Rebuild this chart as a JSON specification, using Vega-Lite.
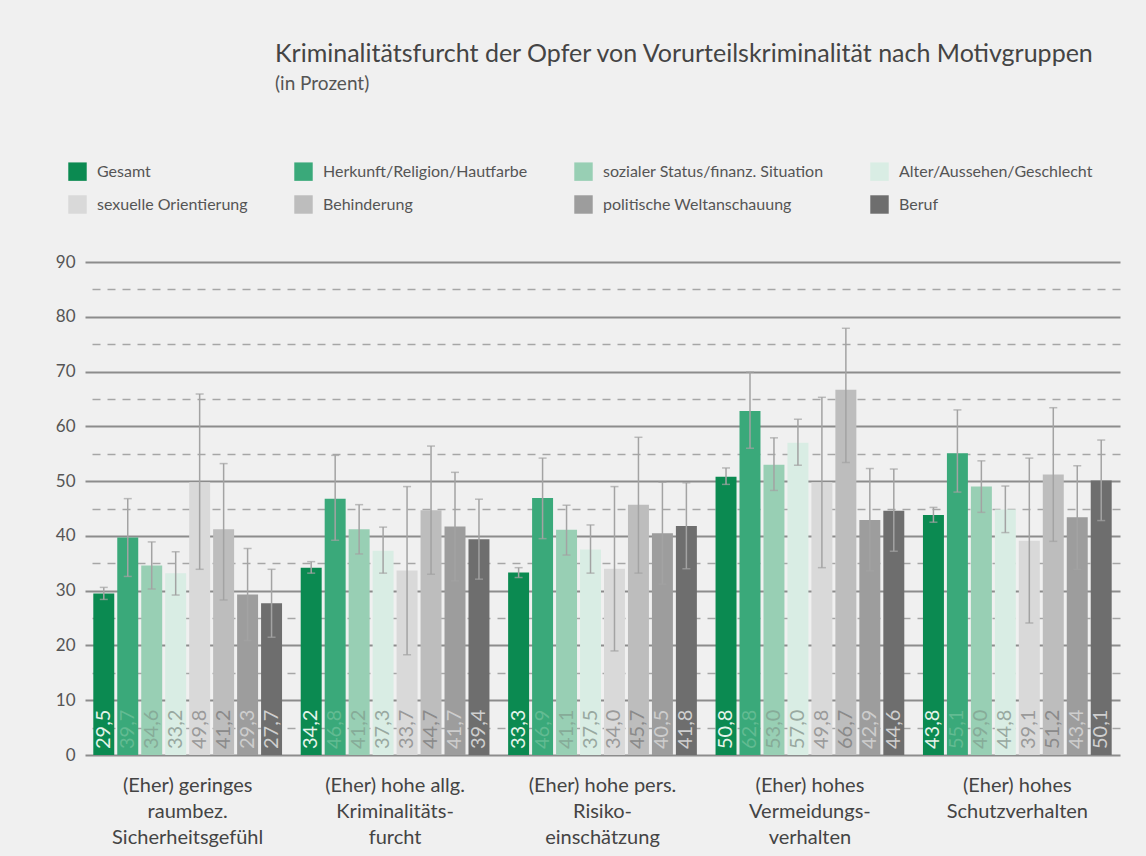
{
  "$schema": "https://vega.github.io/schema/vega-lite/v6.json",
  "autosize": {"type": "none"},
  "width": 1035,
  "height": 493,
  "padding": {"left": 85, "top": 262, "right": 26, "bottom": 101},
  "background": "#f0f0f0",
  "title": {
    "text": "Kriminalitätsfurcht der Opfer von Vorurteilskriminalität nach Motivgruppen",
    "subtitle": "(in Prozent)",
    "anchor": "start",
    "frame": "group",
    "dx": 190,
    "offset": 68,
    "font": "Lato",
    "fontSize": 25,
    "fontWeight": "normal",
    "color": "#444444",
    "subtitleFont": "Lato",
    "subtitleFontSize": 19,
    "subtitleColor": "#555555",
    "subtitlePadding": 8
  },
  "data": {
    "values": [
      {"g": "(Eher) geringes|raumbez.|Sicherheitsgefühl", "s": "Gesamt", "v": 29.5, "lo": 28.4, "hi": 30.6},
      {"g": "(Eher) geringes|raumbez.|Sicherheitsgefühl", "s": "Herkunft/Religion/Hautfarbe", "v": 39.7, "lo": 32.6, "hi": 46.8},
      {"g": "(Eher) geringes|raumbez.|Sicherheitsgefühl", "s": "sozialer Status/finanz. Situation", "v": 34.6, "lo": 30.3, "hi": 38.9},
      {"g": "(Eher) geringes|raumbez.|Sicherheitsgefühl", "s": "Alter/Aussehen/Geschlecht", "v": 33.2, "lo": 29.2, "hi": 37.1},
      {"g": "(Eher) geringes|raumbez.|Sicherheitsgefühl", "s": "sexuelle Orientierung", "v": 49.8, "lo": 33.9, "hi": 65.9},
      {"g": "(Eher) geringes|raumbez.|Sicherheitsgefühl", "s": "Behinderung", "v": 41.2, "lo": 28.3, "hi": 53.2},
      {"g": "(Eher) geringes|raumbez.|Sicherheitsgefühl", "s": "politische Weltanschauung", "v": 29.3, "lo": 20.9, "hi": 37.7},
      {"g": "(Eher) geringes|raumbez.|Sicherheitsgefühl", "s": "Beruf", "v": 27.7, "lo": 21.5, "hi": 33.9},
      {"g": "(Eher) hohe allg.|Kriminalitäts-|furcht", "s": "Gesamt", "v": 34.2, "lo": 33.2, "hi": 35.3},
      {"g": "(Eher) hohe allg.|Kriminalitäts-|furcht", "s": "Herkunft/Religion/Hautfarbe", "v": 46.8, "lo": 39.2, "hi": 54.7},
      {"g": "(Eher) hohe allg.|Kriminalitäts-|furcht", "s": "sozialer Status/finanz. Situation", "v": 41.2, "lo": 36.7, "hi": 45.7},
      {"g": "(Eher) hohe allg.|Kriminalitäts-|furcht", "s": "Alter/Aussehen/Geschlecht", "v": 37.3, "lo": 33.2, "hi": 41.6},
      {"g": "(Eher) hohe allg.|Kriminalitäts-|furcht", "s": "sexuelle Orientierung", "v": 33.7, "lo": 18.3, "hi": 49.0},
      {"g": "(Eher) hohe allg.|Kriminalitäts-|furcht", "s": "Behinderung", "v": 44.7, "lo": 33.0, "hi": 56.4},
      {"g": "(Eher) hohe allg.|Kriminalitäts-|furcht", "s": "politische Weltanschauung", "v": 41.7, "lo": 31.8, "hi": 51.6},
      {"g": "(Eher) hohe allg.|Kriminalitäts-|furcht", "s": "Beruf", "v": 39.4, "lo": 32.1, "hi": 46.7},
      {"g": "(Eher) hohe pers.|Risiko-|einschätzung", "s": "Gesamt", "v": 33.3, "lo": 32.4, "hi": 34.2},
      {"g": "(Eher) hohe pers.|Risiko-|einschätzung", "s": "Herkunft/Religion/Hautfarbe", "v": 46.9, "lo": 39.5, "hi": 54.2},
      {"g": "(Eher) hohe pers.|Risiko-|einschätzung", "s": "sozialer Status/finanz. Situation", "v": 41.1, "lo": 36.5, "hi": 45.6},
      {"g": "(Eher) hohe pers.|Risiko-|einschätzung", "s": "Alter/Aussehen/Geschlecht", "v": 37.5, "lo": 33.2, "hi": 42.0},
      {"g": "(Eher) hohe pers.|Risiko-|einschätzung", "s": "sexuelle Orientierung", "v": 34.0, "lo": 19.0, "hi": 49.0},
      {"g": "(Eher) hohe pers.|Risiko-|einschätzung", "s": "Behinderung", "v": 45.7, "lo": 33.2, "hi": 58.0},
      {"g": "(Eher) hohe pers.|Risiko-|einschätzung", "s": "politische Weltanschauung", "v": 40.5, "lo": 31.2, "hi": 49.8},
      {"g": "(Eher) hohe pers.|Risiko-|einschätzung", "s": "Beruf", "v": 41.8, "lo": 34.0, "hi": 49.7},
      {"g": "(Eher) hohes|Vermeidungs-|verhalten", "s": "Gesamt", "v": 50.8, "lo": 49.4, "hi": 52.4},
      {"g": "(Eher) hohes|Vermeidungs-|verhalten", "s": "Herkunft/Religion/Hautfarbe", "v": 62.8, "lo": 56.0, "hi": 69.9},
      {"g": "(Eher) hohes|Vermeidungs-|verhalten", "s": "sozialer Status/finanz. Situation", "v": 53.0, "lo": 48.3, "hi": 57.9},
      {"g": "(Eher) hohes|Vermeidungs-|verhalten", "s": "Alter/Aussehen/Geschlecht", "v": 57.0, "lo": 52.9, "hi": 61.3},
      {"g": "(Eher) hohes|Vermeidungs-|verhalten", "s": "sexuelle Orientierung", "v": 49.8, "lo": 34.2, "hi": 65.3},
      {"g": "(Eher) hohes|Vermeidungs-|verhalten", "s": "Behinderung", "v": 66.7, "lo": 53.4, "hi": 77.9},
      {"g": "(Eher) hohes|Vermeidungs-|verhalten", "s": "politische Weltanschauung", "v": 42.9, "lo": 33.6, "hi": 52.3},
      {"g": "(Eher) hohes|Vermeidungs-|verhalten", "s": "Beruf", "v": 44.6, "lo": 37.2, "hi": 52.2},
      {"g": "(Eher) hohes|Schutzverhalten", "s": "Gesamt", "v": 43.8, "lo": 42.5, "hi": 45.2},
      {"g": "(Eher) hohes|Schutzverhalten", "s": "Herkunft/Religion/Hautfarbe", "v": 55.1, "lo": 48.0, "hi": 63.0},
      {"g": "(Eher) hohes|Schutzverhalten", "s": "sozialer Status/finanz. Situation", "v": 49.0, "lo": 44.3, "hi": 53.7},
      {"g": "(Eher) hohes|Schutzverhalten", "s": "Alter/Aussehen/Geschlecht", "v": 44.8, "lo": 40.6, "hi": 49.1},
      {"g": "(Eher) hohes|Schutzverhalten", "s": "sexuelle Orientierung", "v": 39.1, "lo": 24.1, "hi": 54.2},
      {"g": "(Eher) hohes|Schutzverhalten", "s": "Behinderung", "v": 51.2, "lo": 39.0, "hi": 63.4},
      {"g": "(Eher) hohes|Schutzverhalten", "s": "politische Weltanschauung", "v": 43.4, "lo": 33.9, "hi": 52.8},
      {"g": "(Eher) hohes|Schutzverhalten", "s": "Beruf", "v": 50.1, "lo": 42.8, "hi": 57.5}
    ]
  },
  "encoding": {
    "x": {
      "field": "g", "type": "nominal", "sort": null,
      "scale": {"paddingInner": 0.09, "paddingOuter": 0.04},
      "axis": {
        "title": null, "labelAngle": 0, "domain": false, "ticks": false,
        "labelExpr": "split(datum.value, '|')",
        "labelFont": "Lato", "labelFontSize": 20, "labelColor": "#444444",
        "labelPadding": 20, "labelLineHeight": 26, "labelBaseline": "top", "labelLimit": 300
      }
    },
    "xOffset": {
      "field": "s", "type": "nominal", "sort": null,
      "scale": {"paddingInner": 0.125, "paddingOuter": 0}
    }
  },
  "layer": [
    {
      "mark": {"type": "bar"},
      "encoding": {
        "y": {
          "field": "v", "type": "quantitative",
          "scale": {"domain": [0, 90], "nice": false},
          "axis": {
            "title": null,
            "values": [0, 10, 20, 30, 40, 50, 60, 70, 80, 90],
            "domain": false, "ticks": false,
            "labelFont": "Lato", "labelFontSize": 17, "labelColor": "#555555", "labelPadding": 10,
            "grid": true, "gridColor": "#8c8c8c", "gridWidth": 2, "gridOpacity": 1
          }
        },
        "color": {
          "field": "s", "type": "nominal", "sort": null,
          "scale": {
            "domain": ["Gesamt", "Herkunft/Religion/Hautfarbe", "sozialer Status/finanz. Situation", "Alter/Aussehen/Geschlecht", "sexuelle Orientierung", "Behinderung", "politische Weltanschauung", "Beruf"],
            "range": ["#0b8a51", "#3aa97a", "#98cfb4", "#d9ede4", "#d9d9d9", "#bdbdbd", "#9d9d9d", "#6e6e6e"]
          },
          "legend": {
            "title": null, "orient": "none", "legendX": -17, "legendY": -100,
            "direction": "horizontal", "columns": 4, "columnPadding": 46, "rowPadding": 14,
            "symbolType": "square", "symbolSize": 340, "symbolStrokeWidth": 0, "symbolOpacity": 1,
            "labelFont": "Lato", "labelFontSize": 16, "labelColor": "#555555", "labelOffset": 10, "labelLimit": 400
          }
        }
      }
    },
    {
      "mark": {"type": "rule", "color": "#a3a3a3", "strokeWidth": 1.5},
      "encoding": {
        "y": {
          "field": "lo", "type": "quantitative",
          "axis": {
            "title": null, "orient": "right",
            "values": [5, 15, 25, 35, 45, 55, 65, 75, 85],
            "labels": false, "domain": false, "ticks": false,
            "grid": true, "gridColor": "#a6a6a6", "gridWidth": 1.5, "gridDash": [8, 7], "gridOpacity": 1
          }
        },
        "y2": {"field": "hi"}
      }
    },
    {
      "mark": {"type": "tick", "color": "#a3a3a3", "size": 8, "thickness": 1.5},
      "encoding": {"y": {"field": "lo", "type": "quantitative", "axis": null}}
    },
    {
      "mark": {"type": "tick", "color": "#a3a3a3", "size": 8, "thickness": 1.5},
      "encoding": {"y": {"field": "hi", "type": "quantitative", "axis": null}}
    },
    {
      "mark": {"type": "text", "angle": 270, "align": "left", "baseline": "middle", "dx": 6, "font": "Lato", "fontSize": 20},
      "encoding": {
        "y": {"datum": 0, "type": "quantitative", "axis": null},
        "text": {"field": "v", "type": "quantitative", "format": ".1f"},
        "color": {
          "field": "s", "type": "nominal", "sort": null, "legend": null,
          "scale": {
            "domain": ["Gesamt", "Herkunft/Religion/Hautfarbe", "sozialer Status/finanz. Situation", "Alter/Aussehen/Geschlecht", "sexuelle Orientierung", "Behinderung", "politische Weltanschauung", "Beruf"],
            "range": ["#e4f4ea", "#62bb92", "#86ab98", "#98a8a0", "#9a9a9a", "#8a8a8a", "#cdcdcd", "#cfcfcf"]
          }
        }
      }
    }
  ],
  "resolve": {"scale": {"color": "independent"}, "axis": {"y": "independent"}},
  "config": {
    "view": {"stroke": null},
    "font": "Lato",
    "locale": {
      "number": {"decimal": ",", "thousands": ".", "grouping": [3], "currency": ["", " €"]}
    }
  }
}
